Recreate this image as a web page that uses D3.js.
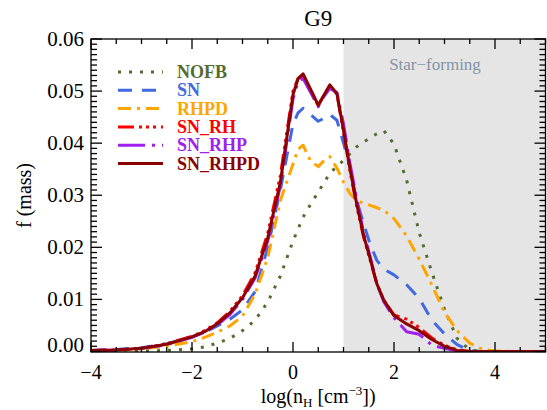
<!DOCTYPE html>
<html><head><meta charset="utf-8">
<script src="https://cdn.jsdelivr.net/npm/d3@7"></script>
<style>body{margin:0;background:#fff}svg{display:block}
text{font-family:"Liberation Serif","Times New Roman",Times,"DejaVu Serif",serif;}</style>
</head><body><svg id="c" width="547" height="410"></svg>
<script>
const logN = [-4,-3.5,-3,-2.5,-2,-1.75,-1.5,-1.25,-1,-0.75,-0.5,-0.25,0,0.1,0.2,0.35,0.5,0.6,0.73,0.87,1.0,1.13,1.26,1.4,1.52,1.66,1.8,2.0,2.25,2.5,2.75,3.0,3.25,3.5,3.75,4,4.5,5];
const NOFB   = [0,0.0001,0.0001,0.0002,0.0005,0.0009,0.0016,0.0025,0.0040,0.0060,0.0095,0.0145,0.0212,0.0235,0.0258,0.0283,0.0306,0.0322,0.0342,0.0356,0.0367,0.0380,0.0393,0.0402,0.0410,0.0418,0.0424,0.0398,0.0329,0.0228,0.0152,0.0081,0.0025,0.0003,0,0,0,0];
const SN     = [0.0002,0.0004,0.0007,0.0015,0.0028,0.0037,0.0049,0.0062,0.0080,0.0115,0.0200,0.0310,0.0437,0.0458,0.0467,0.0455,0.0442,0.0447,0.0455,0.0444,0.0400,0.0355,0.0290,0.0245,0.0208,0.0175,0.0158,0.0147,0.0128,0.0102,0.0060,0.0034,0.0013,0.0002,0,0,0,0];
const RHPD   = [0.0001,0.0002,0.0005,0.0010,0.0019,0.0027,0.0037,0.0049,0.0068,0.0110,0.0180,0.0290,0.0360,0.0388,0.0396,0.0365,0.0355,0.0365,0.0374,0.0352,0.0325,0.0303,0.0290,0.0284,0.0281,0.0276,0.0271,0.0255,0.0222,0.0177,0.0128,0.0075,0.0040,0.0016,0.0004,0.0001,0,0];
const SN_RH  = [0.0002,0.0003,0.0006,0.0015,0.0029,0.0040,0.0055,0.0077,0.0107,0.0151,0.0227,0.0338,0.0500,0.0524,0.0531,0.0500,0.0472,0.0490,0.0510,0.0494,0.0421,0.0346,0.0280,0.0219,0.0178,0.0130,0.0098,0.0070,0.0062,0.0046,0.0026,0.0012,0.0003,0,0,0,0,0];
const SN_RHP = [0.0002,0.0003,0.0006,0.0013,0.0027,0.0037,0.0051,0.0071,0.0100,0.0141,0.0212,0.0318,0.0485,0.0518,0.0524,0.0497,0.0470,0.0488,0.0505,0.0497,0.0437,0.0360,0.0294,0.0228,0.0185,0.0130,0.0095,0.0065,0.0038,0.0033,0.0012,0.0006,0.0001,0,0,0,0,0];
const SN_RHPD= [0.0002,0.0003,0.0006,0.0014,0.0028,0.0038,0.0053,0.0074,0.0103,0.0145,0.0218,0.0325,0.0493,0.0524,0.0533,0.0503,0.0473,0.0490,0.0512,0.0495,0.0425,0.0350,0.0284,0.0222,0.0181,0.0130,0.0098,0.0069,0.0053,0.0040,0.0023,0.0010,0.0002,0,0,0,0,0];
const seriesNames = ["NOFB","SN","RHPD","SN_RH","SN_RHP","SN_RHPD"];
const seriesValues = [NOFB,SN,RHPD,SN_RH,SN_RHP,SN_RHPD];
const seriesColors = ["#556b2f","#4169e1","#ffa500","#ff0000","#a020f0","#8b0000"];
const seriesDash = ["3,8","14,10","13,6,3,6","16,5,3,4,3,4,3,5","27,7,3,7","none"];
const xTicks = [-4,-2,0,2,4];
const yTicks = [0,0.01,0.02,0.03,0.04,0.05,0.06];
const yTickLabels = ["0.00","0.01","0.02","0.03","0.04","0.05","0.06"];
const sfStart = 1;

const svg = d3.select("#c");
const L=91, R=545.5, T=39, B=352;
const x = d3.scaleLinear().domain([-4,5]).range([L,R]);
const y = d3.scaleLinear().domain([-0.0001,0.06]).range([B,T]);

svg.append("defs").append("clipPath").attr("id","clip").append("rect")
  .attr("x",L).attr("y",T).attr("width",R-L).attr("height",B-T);

svg.append("rect").attr("x",x(sfStart)).attr("y",T).attr("width",R-x(sfStart)).attr("height",B-T).attr("fill","#e5e5e5");
svg.append("text").attr("x",435).attr("y",70).attr("text-anchor","middle")
  .style("font-size","17px").attr("fill","#8494a6").text("Star\u2212forming");

const line = d3.line().x((d,i)=>x(logN[i])).y(d=>y(d));
const g = svg.append("g").attr("clip-path","url(#clip)");
seriesValues.forEach((vals,k)=>{
  g.append("path").attr("d",line(vals)).attr("fill","none")
   .attr("stroke",seriesColors[k]).attr("stroke-width",3)
   .attr("stroke-dasharray",seriesDash[k]).attr("stroke-linejoin","round");
});

// frame and ticks
const ax = svg.append("g").attr("stroke","#000").attr("stroke-width",1.3);
ax.append("rect").attr("x",L).attr("y",T).attr("width",R-L).attr("height",B-T).attr("fill","none");
const xMinor = d3.range(-4,5.001,0.5);
xMinor.forEach(v=>{
  const major = Math.abs(v/2-Math.round(v/2))<1e-9;
  const len = major?10:5;
  ax.append("line").attr("x1",x(v)).attr("x2",x(v)).attr("y1",B).attr("y2",B-len);
  ax.append("line").attr("x1",x(v)).attr("x2",x(v)).attr("y1",T).attr("y2",T+len);
});
const yMinor = d3.range(0,0.0601,0.001);
yMinor.forEach((v,i)=>{
  const major = i%10===0;
  const len = major?11:6;
  ax.append("line").attr("x1",L).attr("x2",L+len).attr("y1",y(v)).attr("y2",y(v));
  ax.append("line").attr("x1",R).attr("x2",R-len).attr("y1",y(v)).attr("y2",y(v));
});

// tick labels
xTicks.forEach(v=>{
  svg.append("text").attr("x",x(v)).attr("y",379).attr("text-anchor","middle")
    .style("font-size","20px").text(v<0?"\u2212"+Math.abs(v):String(v));
});
yTicks.forEach((v,i)=>{
  const yy = i===0 ? y(v)-6 : y(v);
  svg.append("text").attr("x",84).attr("y",yy+7).attr("text-anchor","end")
    .style("font-size","21px").text(yTickLabels[i]);
});

// titles
svg.append("text").attr("x",(L+R)/2).attr("y",26).attr("text-anchor","middle")
  .style("font-size","23px").text("G9");
const xt = svg.append("text").attr("x",(L+R)/2).attr("y",403).attr("text-anchor","middle")
  .style("font-size","20px");
xt.append("tspan").text("log(n");
xt.append("tspan").style("font-size","13px").attr("dy",4).text("H");
xt.append("tspan").attr("dy",-4).text(" [cm");
xt.append("tspan").style("font-size","13px").attr("dy",-8).text("\u22123");
xt.append("tspan").attr("dy",8).text("])");
svg.append("text").attr("transform",`translate(31,${(T+B)/2}) rotate(-90)`).attr("text-anchor","middle")
  .style("font-size","20px").text("f (mass)");

// legend
const lg = svg.append("g");
seriesNames.forEach((n,k)=>{
  const yy = 72 + k*18.3;
  lg.append("line").attr("x1",118).attr("x2",163).attr("y1",yy).attr("y2",yy)
    .attr("stroke",seriesColors[k]).attr("stroke-width",3).attr("stroke-dasharray",seriesDash[k]);
  lg.append("text").attr("x",177).attr("y",yy+6).style("font-weight","bold")
    .style("font-size","18px").attr("fill",seriesColors[k]).text(n);
});
</script></body></html>
